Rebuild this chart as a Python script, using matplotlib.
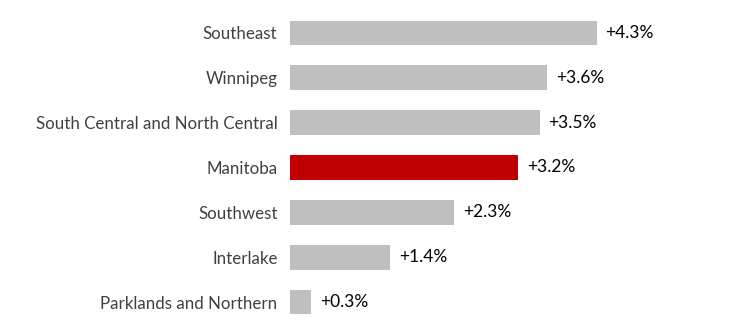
import matplotlib
matplotlib.use("Agg")
from matplotlib import pyplot as plt
import numpy as np

# Employment growth by region
regions = ["Southeast", "Winnipeg", "South Central and North Central", "Manitoba",
           "Southwest", "Interlake", "Parklands and Northern"]
growth = [4.3, 3.6, 3.5, 3.2, 2.3, 1.4, 0.3]
highlight = "Manitoba"

grey = "#bfbfbf"
red = "#c00000"

plt.rcParams['font.family'] = ['Lato', 'DejaVu Sans']

fig = plt.figure(figsize=(7.37, 3.32), dpi=100)
ax = fig.add_axes([290 / 737, 7.5 / 332, 447 / 737, 314 / 332])

y = np.arange(len(regions))
colors = [red if r == highlight else grey for r in regions]
bars = ax.barh(y, growth, height=0.55, color=colors)

ax.set_xlim(0, 6.27)
ax.set_ylim(len(regions) - 0.5, -0.5)

ax.set_yticks(y)
ax.set_yticklabels(regions, fontsize=12.2, color="#404040")
ax.tick_params(axis="y", length=0, pad=9)
ax.set_xticks([])
for side in ax.spines.values():
    side.set_visible(False)

# value labels at the end of each bar
for b, v in zip(bars, growth):
    ax.annotate(f"+{v:.1f}%", xy=(b.get_width(), b.get_y() + b.get_height() / 2),
                xytext=(6.5, 0), textcoords="offset points",
                ha="left", va="center", fontsize=12.5, color="black")

fig.savefig("out.png", dpi=100)
